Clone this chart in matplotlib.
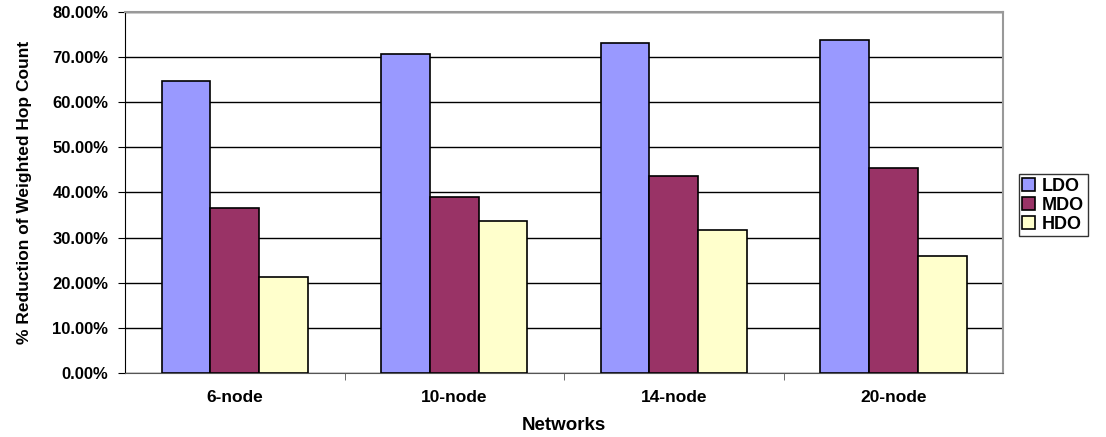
import numpy as np
import matplotlib
matplotlib.use("Agg")
import matplotlib.pyplot as plt
from matplotlib.ticker import FuncFormatter, FixedLocator

networks = ["6-node", "10-node", "14-node", "20-node"]
ldo = [64.8, 70.7, 73.1, 73.7]
mdo = [36.6, 39.1, 43.6, 45.5]
hdo = [21.2, 33.7, 31.6, 26.0]

series = [("LDO", ldo, "#9999ff"), ("MDO", mdo, "#993366"), ("HDO", hdo, "#ffffcc")]

plt.rcParams["font.family"] = ["Liberation Sans", "DejaVu Sans"]
plt.rcParams["font.weight"] = "bold"

fig = plt.figure(figsize=(11.06, 4.37), dpi=100)
ax = fig.add_axes([0.113, 0.1465, 0.794, 0.826])

x = np.arange(len(networks))
w = 1.0 / 4.5
for i, (name, vals, col) in enumerate(series):
    ax.bar(x + (i - 1) * w, vals, width=w, color=col, edgecolor="black",
           linewidth=1.2, label=name, zorder=3)

ax.set_xlim(-0.5, len(networks) - 0.5)
ax.set_ylim(0, 80)
ax.set_yticks(np.arange(0, 81, 10))
ax.yaxis.set_major_formatter(FuncFormatter(lambda v, p: "%.2f%%" % v))
ax.yaxis.grid(True, color="black", linewidth=1.0, zorder=0)
ax.set_axisbelow(True)

ax.set_xticks(x)
ax.set_xticklabels(networks)
ax.xaxis.set_minor_locator(FixedLocator(np.arange(0.5, len(networks) - 1, 1.0)))
ax.tick_params(axis="x", which="major", length=0, pad=12, labelsize=12.5)
ax.tick_params(axis="x", which="minor", length=5, color="#555555")
ax.tick_params(axis="y", length=5, labelsize=12, pad=7)

for s in ["top", "right"]:
    ax.spines[s].set_color("#999999")
    ax.spines[s].set_linewidth(1.5)
ax.spines["left"].set_color("black")
ax.spines["bottom"].set_color("#555555")

ax.set_xlabel("Networks", fontsize=13.5, fontweight="bold")
ax.xaxis.set_label_coords(0.5, -0.122)
ax.set_ylabel("% Reduction of Weighted Hop Count", fontsize=12.5, fontweight="bold")
ax.yaxis.set_label_coords(-0.106, 0.5)

leg = fig.legend(loc="center left", bbox_to_anchor=(0.921, 0.53), fontsize=13,
                 frameon=True, fancybox=False, edgecolor="black",
                 handlelength=0.7, handleheight=0.7, handletextpad=0.4,
                 borderpad=0.2, labelspacing=0.1, borderaxespad=0)
leg.get_frame().set_linewidth(1.0)

fig.savefig("out.png", dpi=100)
